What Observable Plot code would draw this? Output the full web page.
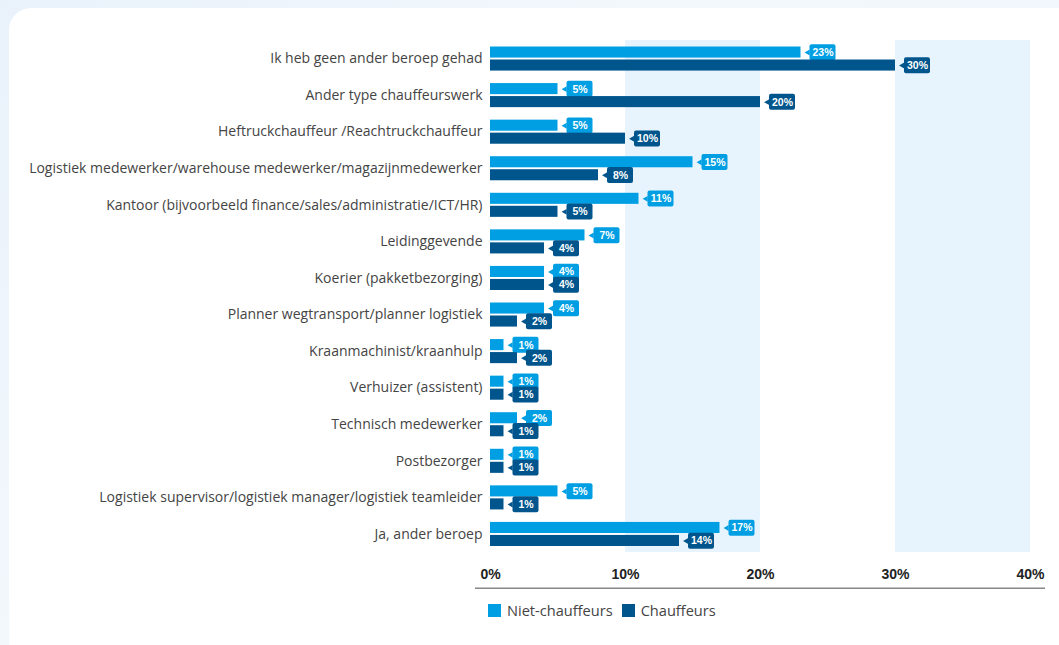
<!DOCTYPE html>
<html><head><meta charset="utf-8">
<script src="https://cdn.jsdelivr.net/npm/d3@7"></script>
<script src="https://cdn.jsdelivr.net/npm/@observablehq/plot@0.6"></script>
<style>
html,body{margin:0;padding:0;}
body{width:1059px;height:645px;overflow:hidden;position:relative;background:linear-gradient(135deg,#e9f2fb 0%,#f3f8fc 40%,#eef5fc 100%);font-family:"Open Sans",sans-serif;}
#card{position:absolute;left:9px;top:8px;width:1080px;height:680px;background:#fff;border-radius:22px;}
#chart{position:absolute;left:0;top:0;}
#legend{position:absolute;left:488px;top:600px;display:flex;align-items:center;font-size:14.6px;color:#444;font-family:"Open Sans",sans-serif;}
#legend .sw{width:13px;height:13px;display:inline-block;margin-right:6px;}
#legend .item{display:flex;align-items:center;margin-right:9px;}
</style>
</head><body>
<div id="card"></div>
<div id="chart"></div>
<div id="legend"></div>
<script>
const categories = [
  "Ik heb geen ander beroep gehad",
  "Ander type chauffeurswerk",
  "Heftruckchauffeur /Reachtruckchauffeur",
  "Logistiek medewerker/warehouse medewerker/magazijnmedewerker",
  "Kantoor (bijvoorbeeld finance/sales/administratie/ICT/HR)",
  "Leidinggevende",
  "Koerier (pakketbezorging)",
  "Planner wegtransport/planner logistiek",
  "Kraanmachinist/kraanhulp",
  "Verhuizer (assistent)",
  "Technisch medewerker",
  "Postbezorger",
  "Logistiek supervisor/logistiek manager/logistiek teamleider",
  "Ja, ander beroep"
];
const nietValues = [23, 5, 5, 15, 11, 7, 4, 4, 1, 1, 2, 1, 5, 17];
const chauffeurValues = [30, 20, 10, 8, 5, 4, 4, 2, 2, 1, 1, 1, 1, 14];
const xTicks = [0, 10, 20, 30, 40];
const shadedFrom = [10, 30];
const shadedTo = [20, 40];
const seriesNames = ["Niet-chauffeurs", "Chauffeurs"];
const seriesColors = ["#009fe3", "#00558c"];

const niet = categories.map((c, i) => ({cat: c, value: nietValues[i]}));
const chauf = categories.map((c, i) => ({cat: c, value: chauffeurValues[i]}));
const bands = shadedFrom.map((a, i) => ({a, b: shadedTo[i]}));

function seriesMarks(data, color, insetTop, insetBottom, dy, boxTop, boxBottom) {
  return [
    Plot.barX(data, {x: "value", y: "cat", fill: color, insetTop, insetBottom}),
    Plot.barX(data, {x1: "value", x2: "value", y: "cat", fill: color, insetLeft: 9, insetRight: -35, insetTop: boxTop, insetBottom: boxBottom, rx: 2}),
    Plot.dot(data, {x: "value", y: "cat", symbol: "triangle", r: 2.2, rotate: -90, fill: color, dx: 7, dy}),
    Plot.text(data, {x: "value", y: "cat", text: d => d.value + "%", dx: 22, dy, fill: "white", fontWeight: "bold", fontSize: 10.5, fontFamily: "'Liberation Sans', Arial, sans-serif"})
  ];
}

const chart = Plot.plot({
  width: 1059,
  height: 595,
  marginLeft: 490,
  marginRight: 29,
  marginTop: 40,
  marginBottom: 43,
  style: {background: "transparent", fontFamily: "'Open Sans', sans-serif"},
  x: {domain: [0, 40]},
  y: {domain: categories, padding: 0, round: false},
  marks: [
    Plot.rect(bands, {x1: "a", x2: "b", fill: "#e8f4fd"}),
    ...seriesMarks(niet, seriesColors[0], 6.5, 19, -6.2, 4.3, 16.3),
    ...seriesMarks(chauf, seriesColors[1], 19.5, 6, 6.8, 17.3, 3.3),
    Plot.axisY({tickSize: 0, tickPadding: 8, fontSize: 14, color: "#444", label: null}),
    Plot.axisX({ticks: xTicks, tickFormat: d => d + "%", tickSize: 0, tickPadding: 17, fontSize: 14, fontWeight: "bold", color: "#222", label: null, fontFamily: "'Liberation Sans', Arial, sans-serif"}),
    Plot.ruleY([categories[categories.length - 1]], {dy: 54, insetLeft: -15, insetRight: -15, stroke: "#888", strokeWidth: 1.5})
  ]
});
document.getElementById("chart").appendChild(chart);

const legend = document.getElementById("legend");
seriesNames.forEach((n, i) => {
  const item = document.createElement("span");
  item.className = "item";
  item.innerHTML = `<span class="sw" style="background:${seriesColors[i]}"></span>${n}`;
  legend.appendChild(item);
});
</script>
</body></html>
